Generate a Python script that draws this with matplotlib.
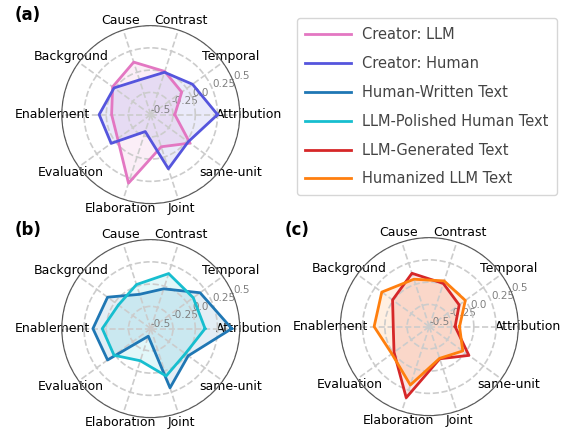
import numpy as np
import matplotlib
matplotlib.use('Agg')
import matplotlib.pyplot as plt

# discourse relation categories, counterclockwise from the right
categories = ['Attribution', 'Temporal', 'Contrast', 'Cause', 'Background',
              'Enablement', 'Evaluation', 'Elaboration', 'Joint', 'same-unit']

# (a) creator of the text
creator_llm = [-0.23, -0.07, 0.01, 0.12, 0.03, -0.06, -0.04, 0.31, -0.12, 0.045]
creator_human = [0.25, 0.08, 0.0, -0.09, 0.01, 0.08, 0.05, -0.30, 0.14, 0.02]

# (b) human-based texts
human_written = [0.41, 0.185, -0.03, -0.095, 0.10, 0.15, 0.10, -0.41, 0.20, 0.02]
llm_polished = [0.11, 0.09, 0.15, 0.02, -0.05, 0.045, 0.01, -0.12, 0.06, -0.02]

# (c) LLM-based texts
llm_generated = [-0.21, -0.085, 0.01, 0.13, 0.01, -0.095, -0.01, 0.34, -0.12, 0.05]
humanized_llm = [-0.16, 0.0, 0.04, 0.06, 0.16, 0.12, 0.02, 0.19, -0.125, -0.035]

r_ticks = [-0.5, -0.25, 0.0, 0.25, 0.5]
r_tick_labels = ['-0.5', '-0.25', '0.0', '0.25', '0.5']

angles = np.linspace(0, 2 * np.pi, len(categories), endpoint=False)

fig = plt.figure(figsize=(5.81, 4.29), dpi=100)

# axes positions in figure fraction
ax_a = fig.add_axes([0.1063, 0.5254, 0.3064, 0.4149], projection='polar')
ax_b = fig.add_axes([0.1063, 0.0266, 0.3064, 0.4149], projection='polar')
ax_c = fig.add_axes([0.5857, 0.0312, 0.3064, 0.4149], projection='polar')

panels = [
    (ax_a, [(creator_llm, 'Creator: LLM', '#e377c2'),
            (creator_human, 'Creator: Human', '#5555dd')]),
    (ax_b, [(human_written, 'Human-Written Text', '#1f77b4'),
            (llm_polished, 'LLM-Polished Human Text', '#17becf')]),
    (ax_c, [(llm_generated, 'LLM-Generated Text', '#d62728'),
            (humanized_llm, 'Humanized LLM Text', '#ff7f0e')]),
]

handles = []
for ax, series in panels:
    for values, label, color in series:
        vals = np.concatenate([values, values[:1]])
        ang = np.concatenate([angles, angles[:1]])
        line, = ax.plot(ang, vals, color=color, linewidth=2, label=label)
        ax.fill(ang, vals, color=color, alpha=0.12)
        handles.append(line)

    ax.set_ylim(-0.5, 0.5)
    ax.set_yticks(r_ticks)
    ax.set_yticklabels(r_tick_labels, fontsize=7.5, color='gray')
    ax.set_xticks(angles)
    ax.set_xticklabels(categories, fontsize=9)
    ax.tick_params(axis='x', pad=-3.5)
    ax.grid(True, linestyle='--', color='#cccccc', linewidth=1.2)
    ax.spines['polar'].set_color('#555555')
    ax.spines['polar'].set_linewidth(0.8)

fig.text(0.026, 0.965, '(a)', fontsize=12, fontweight='bold', va='center', ha='left')
fig.text(0.026, 0.465, '(b)', fontsize=12, fontweight='bold', va='center', ha='left')
fig.text(0.49, 0.465, '(c)', fontsize=12, fontweight='bold', va='center', ha='left')

leg = fig.legend(handles=handles, loc='upper left', bbox_to_anchor=(0.498, 0.974),
                 fontsize=10.5, handlelength=3.1, labelspacing=0.95,
                 frameon=True, fancybox=True, borderpad=0.6)
leg.get_frame().set_edgecolor('#cccccc')
for t in leg.get_texts():
    t.set_color('#444444')

fig.savefig('out.png', dpi=100)
